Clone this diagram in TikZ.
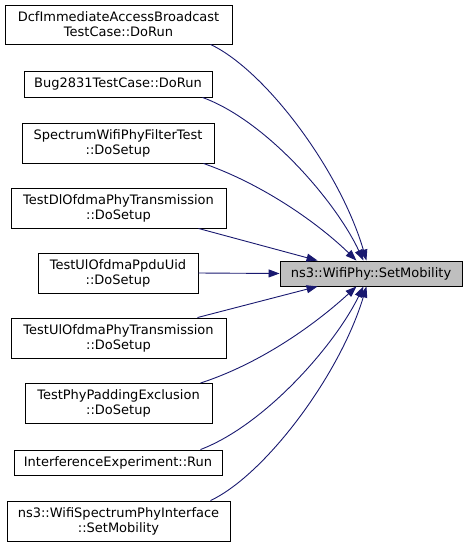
\documentclass[tikz,border=0pt]{standalone}
\usepackage{fontspec}
\setmainfont{DejaVu Sans}
\usetikzlibrary{arrows.meta}
\definecolor{edgeblue}{HTML}{191970}
\definecolor{tgtgray}{HTML}{BFBFBF}
\begin{document}
\begin{tikzpicture}[x=1pt,y=-1pt,
  box/.style={draw=black, line width=0.9pt, fill=white, inner sep=0pt, align=center,
    font=\fontsize{13}{15}\selectfont, anchor=center},
  tgt/.style={box, fill=tgtgray},
  edge/.style={draw=edgeblue, line width=0.9pt, -{Triangle[length=11pt,width=8pt]}}]
\useasboundingbox (0,0) rectangle (469,547);
\node[box, minimum width=227pt, minimum height=39pt] (s1) at (118.5,24.5) {DcfImmediateAccessBroadcast\\TestCase::DoRun};
\node[box, minimum width=188pt, minimum height=26pt] (s2) at (118,84) {Bug2831TestCase::DoRun};
\node[box, minimum width=192pt, minimum height=40pt] (s3) at (118,143) {SpectrumWifiPhyFilterTest\\::DoSetup};
\node[box, minimum width=215pt, minimum height=40pt] (s4) at (118.5,208) {TestDlOfdmaPhyTransmission\\::DoSetup};
\node[box, minimum width=160pt, minimum height=40pt] (s5) at (118,273) {TestUlOfdmaPpduUid\\::DoSetup};
\node[box, minimum width=215pt, minimum height=40pt] (s6) at (118.5,338) {TestUlOfdmaPhyTransmission\\::DoSetup};
\node[box, minimum width=187pt, minimum height=40pt] (s7) at (118.5,403.5) {TestPhyPaddingExclusion\\::DoSetup};
\node[box, minimum width=208pt, minimum height=25pt] (s8) at (118,462.5) {InterferenceExperiment::Run};
\node[box, minimum width=223pt, minimum height=40pt] (s9) at (118.5,521) {ns3::WifiSpectrumPhyInterface\\::SetMobility};
\node[tgt, minimum width=182pt, minimum height=25pt] (t) at (371,273.5) {ns3::WifiPhy::SetMobility};

\draw[edge] ([xshift=-22pt]s1.south east) .. controls (265,70) and (340,170) .. ([xshift=-96pt]t.north east);
\draw[edge] ([xshift=-10pt]s2.south east) .. controls (265,120) and (335,200) .. ([xshift=-99pt]t.north east);
\draw[edge] ([xshift=-11pt]s3.south east) .. controls (265,185) and (320,225) .. ([xshift=-106pt]t.north east);
\draw[edge] ([xshift=-28pt]s4.south east) -- ([xshift=38pt]t.north west);
\draw[edge] (s5.east) -- (t.west);
\draw[edge] ([xshift=-29pt]s6.north east) -- ([xshift=38pt]t.south west);
\draw[edge] ([xshift=-12pt]s7.north east) .. controls (265,362) and (320,320) .. ([xshift=-106pt]t.south east);
\draw[edge] ([xshift=-22pt]s8.north east) .. controls (265,425) and (335,345) .. ([xshift=-99pt]t.south east);
\draw[edge] ([xshift=-20pt]s9.north east) .. controls (265,475) and (340,375) .. ([xshift=-96pt]t.south east);
\end{tikzpicture}
\end{document}
